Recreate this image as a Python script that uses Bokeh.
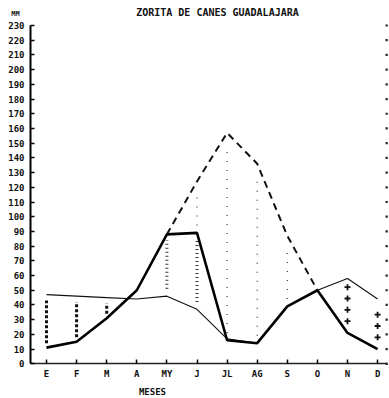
import numpy as np
from bokeh.plotting import figure
from bokeh.models import Range1d, FixedTicker
from bokeh.core.properties import value
from bokeh.embed import file_html
from bokeh.resources import INLINE

# ---- data ----
months = ["E", "F", "M", "A", "MY", "J", "JL", "AG", "S", "O", "N", "D"]
etr = [11, 15, 31, 50, 88, 89, 16, 14, 39, 50, 21, 10]          # thick line
prec = [47, 46, 45, 44, 46, 37, 17, 14, 39, 50, 58, 44]         # thin line
etp_months = ["MY", "J", "JL", "AG", "S", "O"]
etp = [88, 124, 157, 136, 87, 50]                                 # dashed line
y_ticks = list(range(0, 231, 10))

surplus_months = ["E", "F", "M"]        # heavy dots between etr and prec
reserve_months = ["MY", "J"]            # rungs between prec and etr
deficit_months = ["J", "JL", "AG", "S"] # fine dots between etr and etp
cross_months = ["N", "D"]               # crosses between etr and prec

title = "ZORITA DE CANES GUADALAJARA"
unit = "MM"
xlabel = "MESES"

# ---- helpers ----
xi = {m: i + 1 for i, m in enumerate(months)}
X = [xi[m] for m in months]
etp_map = dict(zip(etp_months, etp))
etr_map = dict(zip(months, etr))
prec_map = dict(zip(months, prec))

FONT = "DejaVu Sans Mono"
X_LEFT, X_RIGHT = 0.468, 12.33

p = figure(width=389, height=398, output_backend="svg", toolbar_location=None,
           x_range=Range1d(-0.528, 12.395), y_range=Range1d(-23.6, 247.0),
           min_border=0)
p.outline_line_color = None
p.grid.visible = False
p.background_fill_color = "white"

# axes (fixed inside the frame)
p.yaxis.fixed_location = X_LEFT
p.yaxis.bounds = (0, 230)
p.yaxis.ticker = FixedTicker(ticks=y_ticks)
p.yaxis.major_tick_in = 4
p.yaxis.major_tick_out = 0
p.yaxis.minor_tick_line_color = None
p.yaxis.axis_line_width = 2
p.yaxis.major_tick_line_width = 1.5
p.yaxis.major_label_standoff = 6
p.yaxis.major_label_text_font = FONT
p.yaxis.major_label_text_font_style = "bold"
p.yaxis.major_label_text_font_size = "9px"
p.yaxis.major_label_text_color = "#111"

p.xaxis.fixed_location = 0
p.xaxis.bounds = (X_LEFT, X_RIGHT)
p.xaxis.ticker = FixedTicker(ticks=X)
p.xaxis.major_label_overrides = {xi[m]: m for m in months}
p.xaxis.major_tick_in = 4
p.xaxis.major_tick_out = 0
p.xaxis.minor_tick_line_color = None
p.xaxis.axis_line_width = 1.5
p.xaxis.axis_line_color = "#222"
p.xaxis.major_tick_line_width = 1.5
p.xaxis.major_label_standoff = 5
p.xaxis.major_label_text_font = FONT
p.xaxis.major_label_text_font_style = "bold"
p.xaxis.major_label_text_font_size = "9px"
p.xaxis.major_label_text_color = "#111"

# right-hand dotted scale
p.scatter(x=[12.3] * len(y_ticks), y=y_ticks, marker="square", size=2.2,
          color="#222", line_width=0)

# hatching
sx = [xi[m] for m in surplus_months]
p.segment(x0=sx, x1=sx, y0=[etr_map[m] + 3 for m in surplus_months],
          y1=[prec_map[m] - 4 for m in surplus_months],
          line_width=3, line_dash="3 2", line_color="#111", line_cap="butt")

rx = [xi[m] for m in reserve_months]
p.segment(x0=rx, x1=rx, y0=[prec_map[m] + 5 for m in reserve_months],
          y1=[etr_map[m] - 4 for m in reserve_months],
          line_width=3, line_dash="1 3", line_color="#333", line_cap="butt")

dx = [xi[m] for m in deficit_months]
p.segment(x0=dx, x1=dx, y0=[etr_map[m] + 5 for m in deficit_months],
          y1=[etp_map[m] - 10 for m in deficit_months],
          line_width=1.3, line_dash="1 8", line_color="#444", line_cap="butt")

cxs, cys = [], []
for m in cross_months:
    for v in np.arange(etr_map[m] + 8, prec_map[m] - 4, 7.7):
        cxs.append(xi[m]); cys.append(v)
p.scatter(x=cxs, y=cys, marker="cross", size=6, line_width=1.8, color="#111")

# lines
p.line(X, prec, line_width=1.1, line_color="#111")
p.line(X, etr, line_width=2.6, line_color="#000")
p.line([xi[m] for m in etp_months], etp, line_width=2, line_color="#111",
       line_dash="7 5")

# texts
p.text(x=[6.68], y=[238.8], text=[title], text_align="center",
       text_baseline="middle", text_font=value(FONT), text_font_style="bold",
       text_font_size="10px", text_color="#111")
p.text(x=[-0.03], y=[237.5], text=[unit], text_align="center",
       text_baseline="middle", text_font=value(FONT), text_font_style="bold",
       text_font_size="7px", text_color="#111")
p.text(x=[4.52], y=[-19.5], text=[xlabel], text_align="center",
       text_baseline="middle", text_font=value(FONT), text_font_style="bold",
       text_font_size="9px", text_color="#111")

open("out.html", "w").write(file_html(p, INLINE))
